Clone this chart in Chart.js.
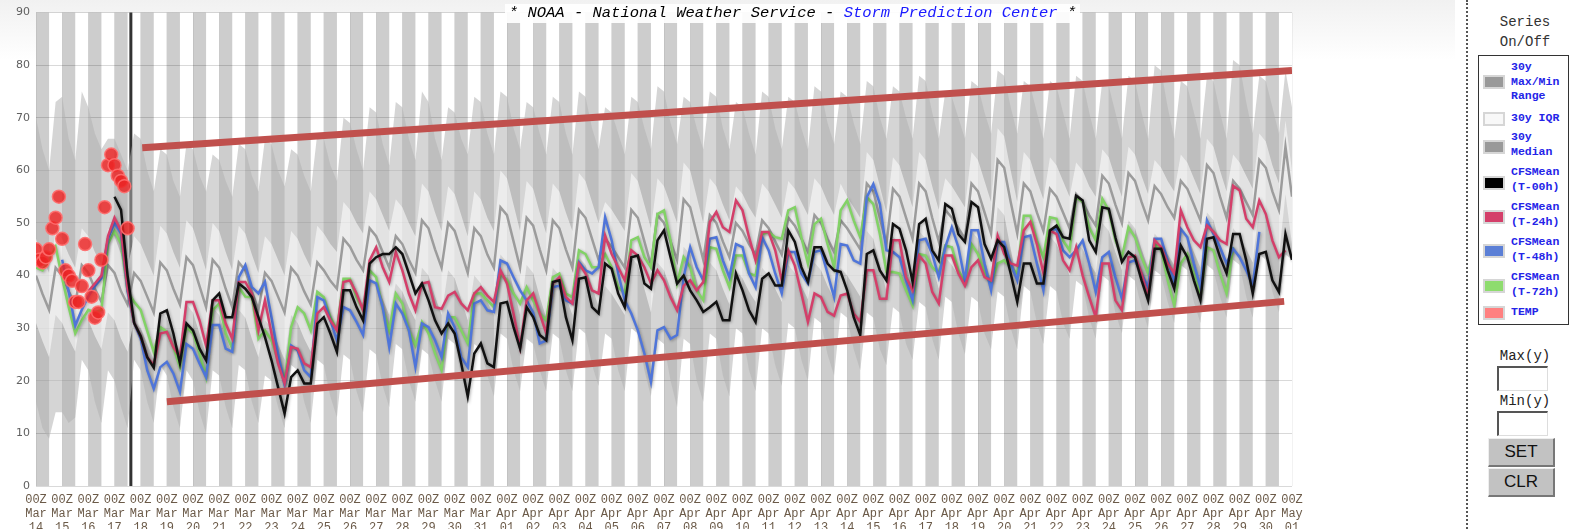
<!DOCTYPE html>
<html>
<head>
<meta charset="utf-8">
<script src="https://cdn.jsdelivr.net/npm/chart.js@4/dist/chart.umd.min.js"></script>
<style>
  body { margin: 0; background: #fff; }
  #wrap { position: absolute; left: 0; top: 0; width: 1455px; height: 529px;
          background: linear-gradient(#f1f1f1 0px, #ffffff 60px); }
  #title { position: absolute; left: 505px; top: 4px; width: 575px; height: 19px;
           background: rgba(255,255,255,0.92); font: italic 15.5px "Liberation Mono", monospace;
           text-align: center; line-height: 19px; color: #000; white-space: nowrap; }
  #title span { color: #1a1aff; }
  #side { position: absolute; left: 1466px; top: 0; width: 109px; height: 529px;
          border-left: 2px dotted #555; }
  .hd { position: absolute; left: 1480px; width: 90px; text-align: center;
        font: 14px "Liberation Mono", monospace; color: #333; }
  #box { position: absolute; left: 1478px; top: 55px; width: 89px; height: 268px;
         border: 1px solid #333; }
  .sw { position: absolute; left: 1483px; width: 18px; height: 10px; border: 2px solid #d6d6d6; }
  .lt { position: absolute; left: 1511px; font: bold 11.5px "Liberation Mono", monospace;
        color: #2424e8; line-height: 14.5px; white-space: nowrap; }
  .lbl { position: absolute; left: 1480px; width: 90px; text-align: center;
         font: 14px "Liberation Mono", monospace; color: #222; }
  .inp { position: absolute; left: 1497px; width: 48px; height: 22px; background: #fff;
         border-top: 2px solid #555; border-left: 2px solid #555;
         border-right: 1px solid #ddd; border-bottom: 1px solid #ddd; }
  .btn { position: absolute; left: 1488px; width: 64px; height: 26px; background: #c2c2c2;
         border-top: 1px solid #eee; border-left: 1px solid #eee;
         border-right: 2px solid #777; border-bottom: 2px solid #777;
         font: 17px "Liberation Sans", Arial, sans-serif; color: #111; text-align: center; line-height: 26px; }
</style>
</head>
<body>
<div id="wrap"><canvas id="c" width="1455" height="529"></canvas></div>
<div id="title">* NOAA - National Weather Service - <span>Storm Prediction Center</span> *</div>
<div id="side"></div>
<div class="hd" style="top:14px">Series</div>
<div class="hd" style="top:34px">On/Off</div>
<div id="box"></div>
<div class="sw" style="top:75px;background:#999"></div>
<div class="lt" style="top:60px">30y<br>Max/Min<br>Range</div>
<div class="sw" style="top:112px;background:#f8f8f8"></div>
<div class="lt" style="top:111px">30y IQR</div>
<div class="sw" style="top:140px;background:#999"></div>
<div class="lt" style="top:130px">30y<br>Median</div>
<div class="sw" style="top:176px;background:#000"></div>
<div class="lt" style="top:165px">CFSMean<br>(T-00h)</div>
<div class="sw" style="top:210px;background:#d43f6a"></div>
<div class="lt" style="top:200px">CFSMean<br>(T-24h)</div>
<div class="sw" style="top:244px;background:#5b7fd6"></div>
<div class="lt" style="top:235px">CFSMean<br>(T-48h)</div>
<div class="sw" style="top:279px;background:#8edc6e"></div>
<div class="lt" style="top:270px">CFSMean<br>(T-72h)</div>
<div class="sw" style="top:306px;background:#ff8080"></div>
<div class="lt" style="top:305px">TEMP</div>
<div class="lbl" style="top:348px">Max(y)</div>
<div class="inp" style="top:366px"></div>
<div class="lbl" style="top:393px">Min(y)</div>
<div class="inp" style="top:411px"></div>
<div class="btn" style="top:438px">SET</div>
<div class="btn" style="top:468px">CLR</div>

<script>
// day 0 = 00Z Mar 14, one tick per day
const tickDates = ['Mar 14','Mar 15','Mar 16','Mar 17','Mar 18','Mar 19','Mar 20','Mar 21','Mar 22',
  'Mar 23','Mar 24','Mar 25','Mar 26','Mar 27','Mar 28','Mar 29','Mar 30','Mar 31',
  'Apr 01','Apr 02','Apr 03','Apr 04','Apr 05','Apr 06','Apr 07','Apr 08','Apr 09','Apr 10',
  'Apr 11','Apr 12','Apr 13','Apr 14','Apr 15','Apr 16','Apr 17','Apr 18','Apr 19','Apr 20',
  'Apr 21','Apr 22','Apr 23','Apr 24','Apr 25','Apr 26','Apr 27','Apr 28','Apr 29','Apr 30','May 01'];

const nowDay = 3.625;

// 30y climatology, 6-hourly from 00Z Mar 14
const climMax = [
  70,64,60,73, 74,66,62,75, 72,67,64,66, 66,63,60,67, 66,60,56,64, 63,58,55,65, 64,59,56,63,
  62,58,55,65, 64,59,56,66, 65,60,57,64, 63,59,56,67, 66,61,58,70, 69,64,60,72, 71,65,61,73,
  72,66,62,75, 73,66,62,72, 71,66,63,74, 73,67,63,75, 74,68,64,73, 72,67,63,74, 73,67,63,75,
  74,68,64,72, 71,67,63,74, 73,68,64,76, 75,69,65,74, 73,68,64,75, 74,68,64,73, 72,67,63,75,
  74,68,64,74, 73,68,64,76, 75,69,65,75, 74,69,65,77, 76,70,66,76, 75,70,66,78, 77,71,66,75,
  74,70,66,77, 76,71,67,79, 78,72,67,77, 76,71,66,77, 76,71,66,78, 77,71,66,77, 76,71,66,78,
  77,71,66,80, 79,72,66,77, 76,71,66,78, 77,71,66,81, 80,73,67,78, 77,72,67,79, 72];
const climQ75 = [
  47,43.5,40.5,48.5, 47,44,41.5,49, 47.5,44.5,42,49, 47.5,44,41.5,47.5, 46,43,40,49.5,
  48,44.5,41.5,50.5, 49,45,41,50, 48.5,44.5,41,49.5, 48,44,40.5,47.5, 46,43,40,48.5,
  47,44,41.5,49.5, 48,46,44.5,54, 52.5,50,48,56, 54.5,51.5,48.5,54.5, 53,50,47.5,57.5,
  56,52,48.5,57, 55.5,51.5,47.5,56, 54.5,51,48.5,60, 58.5,53.5,48.5,58, 56.5,52,48,57.5,
  56,52,48.5,59.5, 58,54,50,54, 52.5,50.5,48.5,59.5, 58,53.5,49,58.5, 57,53.5,50,61.5,
  60,55,50,58.5, 57,53.5,50.5,57, 55.5,53,51,57.5, 56,53.5,51,58, 56.5,54,51.5,58.5,
  57,54,51.5,57.5, 55,53,51,63.5, 62,57,52,62.5, 61,57,53,63.5, 62,57,52.5,58.5,
  57,55,53,63.5, 62,58,54,68, 66.5,60,54,63.5, 62,58,54.5,62.5, 61,58,55,61.5,
  60,57,55,64, 62.5,58.5,55,64.5, 63,59,55.5,62, 60.5,58,56,63, 61.5,58.5,55.5,66,
  64.5,60,56,63, 61.5,59,56.5,67, 65.5,61,57.5,69.5, 60];
const climMedian = [
  40,36.5,33.5,41.5, 40,37,34.5,42, 40.5,37.5,35,42, 40.5,37,34.5,40.5, 39,36,33,42.5,
  41,37.5,34.5,43.5, 42,38,34,43, 41.5,37.5,34,42.5, 41,37,33.5,40.5, 39,36,33,41.5,
  40,37,34.5,42.5, 41,39,37.5,47, 45.5,43,41,49, 47.5,44.5,41.5,47.5, 46,43,40.5,50.5,
  49,45,41.5,50, 48.5,44.5,40.5,49, 47.5,44,41.5,53, 51.5,46.5,41.5,51, 49.5,45,41,50.5,
  49,45,41.5,52.5, 51,47,43,47, 45.5,43.5,41.5,52.5, 51,46.5,42,51.5, 50,46.5,43,54.5,
  53,48,43,51.5, 50,46.5,43.5,50, 48.5,46,44,50.5, 49,46.5,44,51, 49.5,47,44.5,51.5,
  50,47,44.5,50.5, 49,47,45,57.5, 56,51,46,56.5, 55,51,47,57.5, 56,51,46.5,52.5,
  51,49,47,57.5, 56,52,48,62, 60.5,54,48,57.5, 56,52,48.5,56.5, 55,52,49,55.5,
  54,51.5,49.5,59, 57.5,53.5,50,59.5, 58,54,50.5,57, 55.5,53,51,58, 56.5,53.5,50.5,61,
  59.5,55,51,58, 56.5,54,51.5,62, 60.5,56,52.5,64.5, 55];
const climQ25 = [
  31,27.5,24.5,32.5, 31,28,25.5,33, 31.5,28.5,26,33, 31.5,28,25.5,31.5, 30,27,24,33.5,
  32,28.5,25.5,34.5, 33,29,25,34, 32.5,28.5,25,33.5, 32,28,24.5,31.5, 30,27,24,32.5,
  31,28,25.5,33.5, 32,30,28.5,38, 36.5,34,32,40, 38.5,35.5,32.5,38.5, 37,34,31.5,41.5,
  40,36,32.5,41, 39.5,35.5,31.5,40, 38.5,35,32.5,44, 42.5,37.5,32.5,42, 40.5,36,32,41.5,
  40,36,32.5,43.5, 42,38,34,38, 36.5,34.5,32.5,43.5, 42,37.5,33,42.5, 41,37.5,34,45.5,
  44,39,34,42.5, 41,37.5,34.5,41, 39.5,37,35,41.5, 40,37.5,35,42, 40.5,38,35.5,42.5,
  41,38,35.5,41.5, 40,38,36,48.5, 47,42,37,47.5, 46,42,38,48.5, 47,42,37.5,43.5,
  42,40,38,48.5, 47,43,39,53, 51.5,45,39,48.5, 47,43,39.5,47.5, 46,43,40,46.5,
  45,42.5,40.5,50, 48.5,44.5,41,50.5, 49,45,41.5,48, 46.5,44,42,49, 47.5,44.5,41.5,52,
  50.5,46,42,49, 47.5,45,42.5,53, 51.5,47,43.5,55.5, 46];
const climMin = [
  16,11,9,14, 14,12,13,24, 22,16,12,22, 20,15,11,24, 22,16,12,23, 21,15,11,22, 20,14,10,22,
  21,15,11,23, 22,16,12,21, 20,15,11,23, 22,16,12,24, 23,17,13,25, 24,18,14,26, 25,19,15,27,
  26,20,16,26, 25,20,16,28, 27,21,17,27, 26,21,17,29, 28,22,18,28, 27,22,18,29, 28,22,18,30,
  29,23,19,29, 28,22,18,30, 29,22,17,28, 27,20,15,28, 27,20,16,29, 28,21,17,30, 29,22,18,30,
  29,23,19,31, 30,24,20,32, 31,25,21,33, 32,26,22,33, 32,26,23,34, 33,27,24,35, 34,28,24,36,
  35,29,25,36, 35,29,26,37, 36,30,26,38, 37,31,27,38, 37,31,28,39, 38,32,28,40, 39,33,29,40,
  39,34,30,41, 40,35,31,42, 41,35,31,42, 41,36,32,43, 42,36,32,44, 43,37,33,44, 43];

// CFS mean runs, 6-hourly; each starts 24h after the previous one
const cfs00Start = 3;
const cfs00 = [
  55,52.5,40,31, 28.5,24.5,22.5,32.8, 33.4,29,23.3,30.9, 29.6,26.1,23.9,35.3, 36.6,32.1,32.1,38.5,
  37.5,35.9,32.1,28.3, 23.9,18.8,13.8,20.7, 22,19.5,19.5,30.9, 32.1,29,25.5,37.2, 37.2,34,31.5,42.3,
  43.5,44.1,44.1,45.4, 44.1,40.4,36.6,38.5, 35.3,31.5,29,30.9, 29,23.3,17,25.2, 27.1,23.3,22.6,34.7,
  35,30.2,26.1,34, 32.1,28.7,27.7,38.8, 39.1,32.1,27.7,39.4, 39.7,34,32.8,42.3, 41.3,36.6,34,43.5,
  43.8,38.5,37.5,46.7, 48.6,43.5,38.5,40, 37.2,35.3,33.1,34, 35,31.5,31.5,40.4, 37.2,33.4,31.2,39.4,
  40.4,38.1,38.1,48.6, 46.4,41.6,38.8,45.4, 45.4,42.3,41,40.7, 37.2,32.1,28.7,44.1, 44.8,41,39.1,49.8,
  48.9,44.8,38.8,49.8, 50.8,44.8,42.9,53.6, 52.7,47.9,46.4,54, 53,46,43.2,46.7, 45.4,40.4,35,42.3,
  42.3,38.5,38.5,48.6, 49.5,47.3,47,55.2, 54.3,46.7,44.5,53, 52.7,47.3,42.6,44.5, 43.5,39.1,35.3,45.1,
  45.1,41,37.5,45.7, 43.5,39.1,35.3,47, 47.3,43.5,40.4,47.9, 47.9,42.9,36.6,44.1, 44.5,39.1,36.9,47.9, 43];
const cfs24Start = 2;
const cfs24 = [
  37,38.5,40,47.5, 51,48.5,37.5,31, 28.5,24.5,23,29, 29.3,26.4,24.5,35, 35,31.5,26.7,35.3,
  35.3,30.9,28,38.8, 38.8,36.6,29.6,35.3, 29,23.3,19.5,26.4, 26.1,23.3,22.6,32.8, 34,31.5,29.6,38.8,
  39.1,36.6,33.4,42.9, 45.4,41.6,38.8,44.5, 41,36.6,33.4,38.5, 38.8,34,33.7,36.2, 36.9,34.7,33.4,36.6,
  37.8,36.2,35,41, 38.5,32.8,26.4,35.3, 36.6,32.8,29,38.5, 39.7,35.9,34.7,42.3, 40.4,37.2,36.6,47.6,
  44.1,41.6,39.1,44.8, 43.8,41.6,38.5,41, 39.1,35.9,33.4,38.1, 39.1,37.2,38.8,50.2, 52.1,49.2,48.3,54.3,
  52.4,47.3,42.9,48.3, 48.3,44.8,39.1,44.8, 41.9,36.6,31.2,36.6, 35.9,33.1,32.4,36.2, 36.6,32.8,31.2,41,
  41,35.6,35.6,46.7, 46.7,39.7,37.2,43.8, 42.3,36.9,34.7,43.8, 43.8,40.4,38.1,41.6, 42.9,39.7,39.1,47.6,
  44.1,42.3,41.9,48.6, 50.2,46,40.4,48.6, 47.9,42.9,41,45.4, 40,35.9,32.1,42.3, 42.3,35.3,33.4,43.5,
  43.8,40.4,35.9,46.7, 45.4,42.3,40.4,52.4, 49.2,46.7,45.4,49.5, 48.3,46.7,46,57.1, 56.2,50.8,49.2,54.3,
  51.7,46.7,43.5,44.8];
const cfs48Start = 1;
const cfs48 = [
  43,37,30.5,33.5, 36,38,39.5,47, 50,48,37,31, 28,22,18.5,22.6, 23.6,21.4,17.9,27,
  26.1,23.3,20.7,30.6, 30.6,26.1,25.5,39.7, 42,37.8,36.6,38.8, 32.1,25.2,19.2,26.7, 25.8,22,20.7,35.9,
  35.3,31.5,27.7,34, 33.4,31.2,28.7,39.1, 38.5,34,26.4,34.7, 32.8,29.6,22.6,30.9, 30.2,27.7,24.5,32.8,
  30.2,24.5,22.6,34.7, 35.3,33.4,33.1,42.9, 42.3,39.7,37.2,35.3, 33,27.1,27.7,37.8, 38.1,35.3,34.7,42.6,
  41,40.4,41.6,51.1, 46.7,40.4,35.3,32.8, 29.6,25.2,19.8,29.6, 30.2,28,28.7,39.7, 45.4,41.6,39.1,47,
  47.3,42.9,39.7,46, 45.4,40.4,37.8,47.3, 44.8,40.4,36.6,44.5, 44.5,40.4,38.5,44.5, 44.8,40.4,35.9,46,
  45.7,42.9,42.3,54.9, 57.4,53.6,44.8,44.5, 43.5,39.1,35.3,46.7, 47,44.1,39.7,45.4, 49.2,45.4,39.1,48.6,
  48.6,42.3,37.2,46.4, 46.4,42.3,39.1,47.3, 47.6,42.3,37.2,48.6, 48.9,44.8,43.5,44.8, 46.7,42.3,36.9,43.5,
  44.5,39.7,35.6,42.5, 42.9,40.4,37.8,47, 47,42.9,38.8,48.9, 47.3,42.3,37.8,50.5, 47.9,45.4,42.3,45.1,
  43.5,41,38.1,48.3];
const cfs72Start = 0;
const cfs72 = [
  41.5,41,43,45.5, 39.5,34,29,31.5, 33.5,33,33.5,46, 48.5,46,37,35, 33.5,29.5,25.5,30.2,
  29.3,26.4,22.6,30.2, 29,25.2,20.7,33.4, 34.7,29,26.1,37.8, 36,35.9,28,29.6, 27.7,23.9,19.8,30.2,
  34,32.8,29.6,36.9, 35.9,32.1,29.6,39.4, 39.4,35.9,33.4,41, 39.7,33.7,29.6,36.6, 34.7,29.6,26.7,31.2,
  29,25.2,22,32.1, 32.1,29.6,27.1,36.6, 36.6,35.3,34,40.4, 39.1,36.6,34.7,37.8, 35.3,32.8,31.5,39.7,
  40.4,36.6,35.9,44.8, 44.1,41.6,41.6,44.1, 41.6,37.8,36.6,46.7, 47.3,43.5,41.6,51.7, 52.4,46.7,38.5,43.5,
  41.6,37.2,35.3,45.4, 45.1,41,37.8,43.8, 43.8,40.4,40,47.9, 48.3,47.3,47,52.4, 53,47.3,42.3,49.8,
  50.8,46,41.6,52.4, 54.3,50.5,47.3,54.9, 53.6,47.9,40.7,40.7, 40.4,37.2,34.3,44.1, 43.8,41.6,40.4,45.7,
  45.4,41,38.8,46, 44.1,40.4,38.5,42.3, 42.9,41.6,40.4,51.4, 51.4,46.7,43.5,51.1, 50.8,46.7,44.8,54.9,
  54,49.2,46.7,54.6, 52.4,46.7,43.5,49.2, 47.3,43.5,40.4,46, 44.8,39.1,34.3,42.3, 44.1,40.4,35.9,45.4,
  44.8,40.4,36.6,45.4];

// observed temperature, 3-hourly from 00Z Mar 14
const obsTemp = [45,43,42.5,43.5,45,49,51,55,47,41,40,39,35,35,38,46,41,36,32,33,43,53,61,63,61,59,58,57,49];

// hand-drawn trend lines on the picture: [day, value]
const upperTrend = [[4.06, 64.3], [48, 79]];
const lowerTrend = [[5.0, 16], [47.7, 35.1]];

function series(values, start, step) {
  return values.map((v, i) => ({ x: start + i * step, y: v }));
}
function pts(pairs) { return pairs.map(p => ({ x: p[0], y: p[1] })); }

const bandsPlugin = {
  id: 'bands',
  beforeDraw(chart) {
    const { ctx, chartArea: a, scales: { x } } = chart;
    ctx.save();
    ctx.fillStyle = '#ffffff';
    ctx.fillRect(a.left, a.top, a.right - a.left, a.bottom - a.top);
    ctx.fillStyle = '#cdcdcd';
    for (let d = 0; d < tickDates.length - 1; d++) {
      const x0 = x.getPixelForValue(d), x1 = x.getPixelForValue(d + 0.5);
      ctx.fillRect(x0, a.top, x1 - x0, a.bottom - a.top);
    }
    ctx.restore();
  },
  beforeDatasetsDraw(chart) {
    const { ctx, chartArea: a, scales: { x } } = chart;
    const px = x.getPixelForValue(nowDay);
    ctx.save();
    ctx.strokeStyle = '#333';
    ctx.lineWidth = 3;
    ctx.beginPath();
    ctx.moveTo(px, a.top);
    ctx.lineTo(px, a.bottom);
    ctx.stroke();
    ctx.restore();
  }
};

const shadowPlugin = {
  id: 'shadow',
  beforeDatasetDraw(chart, args) {
    const ctx = chart.ctx;
    ctx.save();
    if (chart.data.datasets[args.index].shadow) {
      ctx.shadowColor = 'rgba(0,0,0,0.3)';
      ctx.shadowBlur = 3;
      ctx.shadowOffsetX = 1;
      ctx.shadowOffsetY = 1;
    }
  },
  afterDatasetDraw(chart) { chart.ctx.restore(); }
};

const line = (label, data, color, width, order, extra) => Object.assign({
  label, data, borderColor: color, borderWidth: width, pointRadius: 0, fill: false, order
}, extra || {});

new Chart(document.getElementById('c'), {
  type: 'line',
  data: {
    datasets: [
      line('upper', pts(upperTrend), '#c0504d', 7, 0, { borderCapStyle: 'butt' }),
      line('lower', pts(lowerTrend), '#c0504d', 7, 0, { borderCapStyle: 'butt' }),
      { label: 'TEMP', data: series(obsTemp, 0, 0.125), showLine: false, order: 1,
        pointRadius: 6.5, pointBackgroundColor: 'rgba(236,34,34,0.82)',
        pointBorderColor: 'rgba(255,110,110,0.9)', pointBorderWidth: 1.5 },
      line('CFSMean (T-00h)', series(cfs00, cfs00Start, 0.25), '#111111', 2.5, 2, { shadow: true }),
      line('CFSMean (T-24h)', series(cfs24, cfs24Start, 0.25), '#d43f6a', 2.5, 3, { shadow: true }),
      line('CFSMean (T-48h)', series(cfs48, cfs48Start, 0.25), '#4f75d9', 2.5, 4, { shadow: true }),
      line('CFSMean (T-72h)', series(cfs72, cfs72Start, 0.25), '#82d266', 2.5, 5, { shadow: true }),
      line('30y Median', series(climMedian, 0, 0.25), '#9c9c9c', 2.5, 6),
      line('30y IQR', series(climQ75, 0, 0.25), 'rgba(0,0,0,0)', 0, 7,
        { fill: '+1', backgroundColor: 'rgba(253,253,253,0.57)' }),
      line('q25', series(climQ25, 0, 0.25), 'rgba(0,0,0,0)', 0, 7),
      line('30y Max/Min Range', series(climMax, 0, 0.25), 'rgba(0,0,0,0)', 0, 8,
        { fill: '+1', backgroundColor: 'rgba(177,177,177,0.54)' }),
      line('min', series(climMin, 0, 0.25), 'rgba(0,0,0,0)', 0, 8)
    ]
  },
  options: {
    animation: false,
    responsive: false,
    devicePixelRatio: 1,
    layout: { padding: { left: 0, right: 163, top: 12, bottom: 0 } },
    elements: { line: { tension: 0 } },
    plugins: { legend: { display: false }, tooltip: { enabled: false }, title: { display: false } },
    scales: {
      x: {
        type: 'linear', min: 0, max: 48,
        afterFit(s) { s.height = 43; },
        border: { display: false },
        grid: { color: 'rgba(0,0,0,0.05)', drawTicks: false },
        ticks: {
          stepSize: 1, maxTicksLimit: 100, autoSkip: false, maxRotation: 0, minRotation: 0,
          padding: 7, color: '#6b5a48',
          font: { family: '"Liberation Mono", monospace', size: 12, lineHeight: 1.17 },
          callback(v) {
            const s = tickDates[v];
            if (!s) return '';
            const parts = s.split(' ');
            return ['00Z', parts[0], parts[1]];
          }
        }
      },
      y: {
        min: 0, max: 90,
        afterFit(s) { s.width = 36; },
        border: { display: false },
        grid: { color: 'rgba(0,0,0,0.15)', drawTicks: false },
        ticks: { stepSize: 10, padding: 6, color: '#606060',
          font: { family: '"DejaVu Sans", sans-serif', size: 11 } }
      }
    }
  },
  plugins: [bandsPlugin, shadowPlugin]
});
</script>
</body>
</html>
